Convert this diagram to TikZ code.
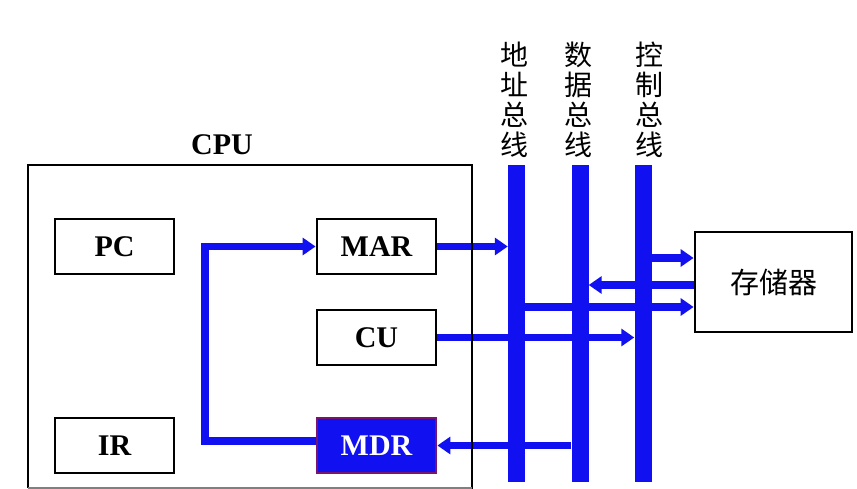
\documentclass[tikz,border=0pt]{standalone}
\usepackage{fontspec}
\setmainfont{Liberation Serif}
\newfontfamily\cjk{Noto Sans CJK SC}
\usetikzlibrary{arrows.meta}
\definecolor{busblue}{RGB}{16,16,240}
\definecolor{mdrborder}{RGB}{120,20,110}
\pgfdeclarelayer{bg}
\pgfsetlayers{bg,main}
\begin{document}
\begin{tikzpicture}[x=1pt,y=-1pt,
  regbox/.style={draw=black,line width=2.8pt,fill=white,minimum width=119pt,minimum height=55pt,inner sep=0pt,font=\bfseries\fontsize{30}{32}\selectfont},
  busbar/.style={fill=busblue,draw=none,minimum width=17pt,minimum height=317pt,inner sep=0pt},
  conn/.style={busblue,line width=7.5pt,-{Triangle[length=13pt,width=17pt]}},
  buslabel/.style={align=center,font=\cjk\fontsize{28}{30}\selectfont,inner sep=0pt}]
\useasboundingbox (0,0) rectangle (857,489);
% CPU frame
\node[font=\bfseries\fontsize{30}{32}\selectfont] (cpulabel) at (222,145) {CPU};
\draw[black,line width=2.5pt] (28,488) -- (28,165) -- (472,165) -- (472,490);
\draw[black!50,line width=1.5pt] (28,488) -- (472,488);
% registers
\node[regbox] (pc)  at (114.5,246.5) {PC};
\node[regbox] (mar) at (376.5,246.5) {MAR};
\node[regbox] (cu)  at (376.5,337.5) {CU};
\node[regbox] (ir)  at (114.5,445.5) {IR};
\node[regbox,fill=busblue,draw=mdrborder,text=white] (mdr) at (376.5,445.5) {MDR};
% buses
\node[busbar] (ab) at (516.5,323.5) {};
\node[busbar] (db) at (580,323.5) {};
\node[busbar] (cb) at (643,323.5) {};
\node[buslabel] (abl) at (514,100) {地\\址\\总\\线};
\node[buslabel] (dbl) at (578,100) {数\\据\\总\\线};
\node[buslabel] (cbl) at (649,100) {控\\制\\总\\线};
% memory
\node[draw=black,line width=2.8pt,fill=white,minimum width=157pt,minimum height=100pt,inner sep=0pt,font=\cjk\fontsize{29}{30}\selectfont] (mem) at (773.5,282) {存储器};
% helper coordinates
\coordinate (corner) at (205,441);
\coordinate (y1) at (0,258);
\coordinate (y2) at (0,285);
\coordinate (y3) at (0,307);
\begin{pgfonlayer}{bg}
\draw[conn] (mdr.west |- corner) -- (corner) -- (corner |- mar.west) -- (mar.west);
\draw[conn] (mar.east) -- (mar.east -| ab.west);
\draw[conn] (cu.east) -- (cu.east -| cb.west);
\draw[conn] (mdr.east -| db.west) -- (mdr.east);
\draw[conn] (cb.east |- y1) -- (mem.west |- y1);
\draw[conn] (mem.west |- y2) -- (db.east |- y2);
\draw[conn] (ab.east |- y3) -- (mem.west |- y3);
\end{pgfonlayer}
\end{tikzpicture}
\end{document}
